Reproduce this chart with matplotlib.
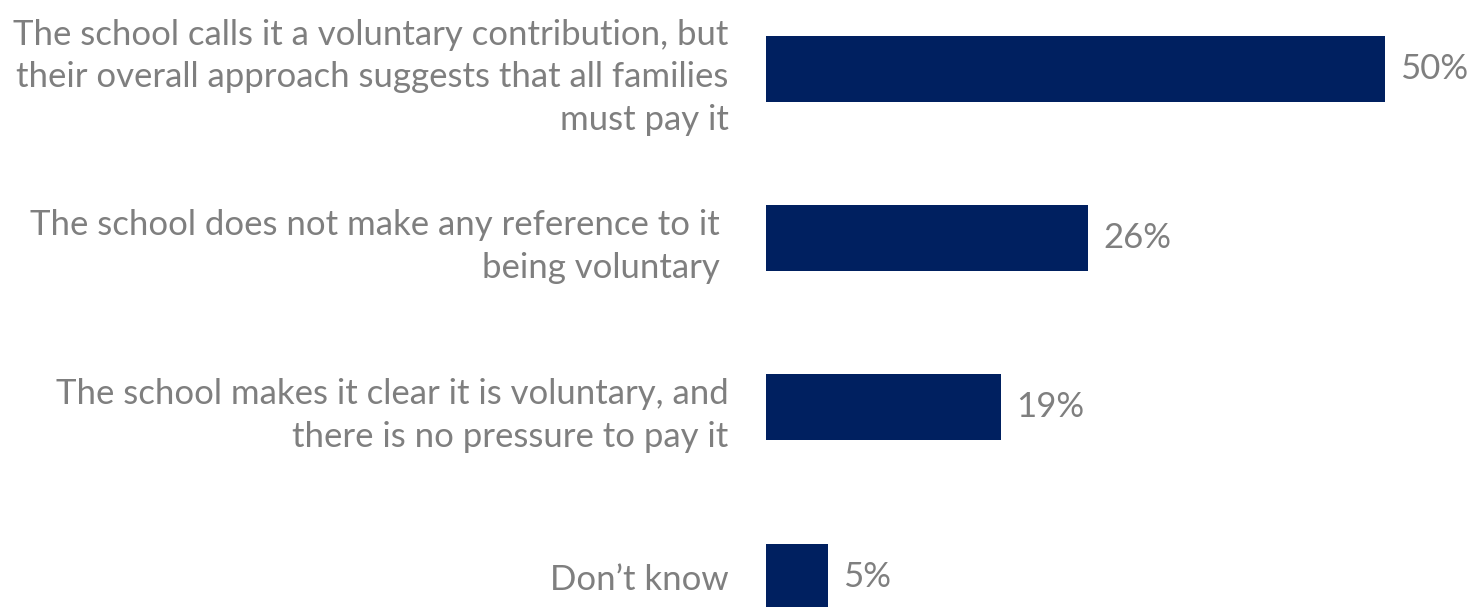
import matplotlib
matplotlib.use("Agg")
import matplotlib.pyplot as plt

# Data
categories = [
    "The school calls it a voluntary contribution, but\ntheir overall approach suggests that all families\nmust pay it",
    "The school does not make any reference to it \nbeing voluntary ",
    "The school makes it clear it is voluntary, and\nthere is no pressure to pay it",
    "Don\u2019t know",
]
values = [50, 26, 19, 5]
value_labels = ["50%", "26%", "19%", "5%"]

bar_color = "#002060"
text_color = "#7f7f7f"

plt.rcParams['font.family'] = ['Lato', 'DejaVu Sans']

W, H = 1473, 607
fig = plt.figure(figsize=(W / 100, H / 100), dpi=100)
ax = fig.add_axes([766 / W, 0, 707 / W, 1])

y = list(range(len(categories)))
ax.barh(y, values, height=0.39, color=bar_color)

ax.set_xlim(0, 707 / 12.38)
ax.set_ylim(3.18, -0.408)

for yi, v, lab in zip(y, values, value_labels):
    ax.annotate(lab, (v, yi), xytext=(11, 0), textcoords="offset points",
                va="center", ha="left", fontsize=25, color=text_color)

ax.set_yticks(y)
ax.set_yticklabels(categories, fontsize=25, color=text_color, linespacing=1.4)
ax.tick_params(axis="y", length=0, pad=27)
ax.set_xticks([])
for s in ax.spines.values():
    s.set_visible(False)

fig.savefig("out.png", dpi=100)
